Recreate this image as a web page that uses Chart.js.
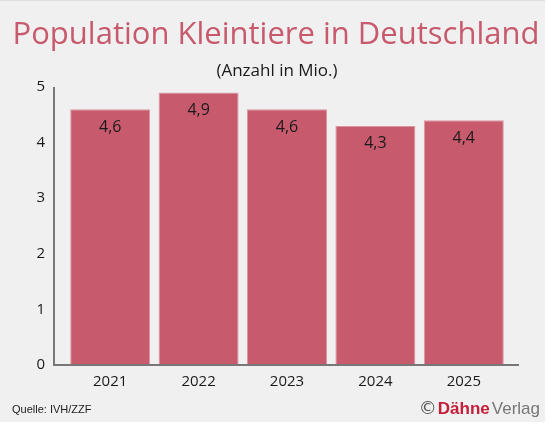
<!DOCTYPE html>
<html>
<head>
<meta charset="utf-8">
<script src="https://cdn.jsdelivr.net/npm/chart.js@4"></script>
<style>
  html, body { margin: 0; padding: 0; background: #fff; }
  #wrap { width: 550px; height: 426px; }
</style>
</head>
<body>
<div id="wrap"><canvas id="myChart" width="550" height="426"></canvas></div>
<script>
var years = ["2021", "2022", "2023", "2024", "2025"];
var population = [4.6, 4.9, 4.6, 4.3, 4.4];
var valueLabels = ["4,6", "4,9", "4,6", "4,3", "4,4"];
var yTicks = [0, 1, 2, 3, 4, 5];

var titleText = "Population Kleintiere in Deutschland";
var subtitleText = "(Anzahl in Mio.)";
var sourceText = "Quelle: IVH/ZZF";

var barColor = "#c85a6e";

// background, headings and footer
var decor = {
    id: "decor",
    beforeDraw: function (chart) {
        var c = chart.ctx;
        c.save();
        c.fillStyle = "#f0f0f0";
        c.fillRect(0, 0, 545, 422);
        c.fillStyle = "#dddddd";
        c.fillRect(0, 0, 545, 1);

        c.textAlign = "center";
        c.textBaseline = "alphabetic";
        c.fillStyle = barColor;
        c.font = "31px 'Open Sans', sans-serif";
        c.fillText(titleText, 276, 44);

        c.fillStyle = "#1a1a1a";
        c.font = "17px 'Open Sans', sans-serif";
        c.fillText(subtitleText, 277, 76);

        c.textAlign = "left";
        c.font = "11px 'Liberation Sans Narrow', 'Liberation Sans', sans-serif";
        c.fillStyle = "#222";
        c.fillText(sourceText, 12, 413);

        // © Dähne Verlag
        c.font = "17px 'Liberation Sans Narrow', 'Liberation Sans', sans-serif";
        var w3 = c.measureText("Verlag").width;
        c.font = "bold 17px 'Liberation Sans Narrow', 'Liberation Sans', sans-serif";
        var w2 = c.measureText("Dähne").width;
        c.font = "18px 'DejaVu Sans', sans-serif";
        var w1 = c.measureText("©").width;
        var x = 540 - w3 - 2 - w2 - 1 - w1;
        c.fillStyle = "#555";
        c.fillText("©", x, 414);
        c.font = "bold 17px 'Liberation Sans Narrow', 'Liberation Sans', sans-serif";
        c.fillStyle = "#c41e3a";
        c.fillText("Dähne", x + w1 + 1, 414);
        c.font = "17px 'Liberation Sans Narrow', 'Liberation Sans', sans-serif";
        c.fillStyle = "#777";
        c.fillText("Verlag", x + w1 + 1 + w2 + 2, 414);
        c.restore();
    },
    afterDatasetsDraw: function (chart) {
        var c = chart.ctx;
        var ys = chart.scales.y;
        c.save();
        // axis lines
        c.strokeStyle = "#777";
        c.lineWidth = 2;
        c.beginPath();
        c.moveTo(chart.chartArea.left - 12, ys.getPixelForValue(5));
        c.lineTo(chart.chartArea.left - 12, ys.getPixelForValue(0));
        c.lineTo(chart.chartArea.right + 11, ys.getPixelForValue(0));
        c.stroke();
        // value labels inside bars
        c.fillStyle = "#1a1a1a";
        c.font = "16px 'Open Sans', sans-serif";
        c.textAlign = "center";
        c.textBaseline = "middle";
        chart.getDatasetMeta(0).data.forEach(function (bar, i) {
            c.fillText(valueLabels[i], bar.x, bar.y + 18);
        });
        c.restore();
    }
};

var ctx = document.getElementById("myChart").getContext("2d");

var myBarChart = new Chart(ctx, {
    type: "bar",
    data: {
        labels: years,
        datasets: [{
            data: population,
            backgroundColor: barColor,
            borderColor: "#de96a3",
            borderWidth: 1,
            borderSkipped: "bottom",
            categoryPercentage: 1,
            barPercentage: 0.905
        }]
    },
    options: {
        responsive: false,
        animation: false,
        devicePixelRatio: 1,
        layout: { padding: { top: 87, right: 42, bottom: 0, left: 0 } },
        plugins: {
            legend: { display: false },
            tooltip: { enabled: false }
        },
        scales: {
            x: {
                grid: { display: false, drawTicks: false },
                border: { display: false },
                ticks: {
                    color: "#1a1a1a",
                    padding: 8,
                    font: { family: "'Open Sans', sans-serif", size: 15 }
                },
                afterFit: function (s) { s.height = 61; }
            },
            y: {
                min: 0,
                max: 5,
                grid: { display: false, drawTicks: false },
                border: { display: false },
                afterBuildTicks: function (s) {
                    s.ticks = yTicks.map(function (v) { return { value: v }; });
                },
                ticks: {
                    color: "#1a1a1a",
                    padding: 21,
                    font: { family: "'Open Sans', sans-serif", size: 15 }
                },
                afterFit: function (s) { s.width = 66; }
            }
        }
    },
    plugins: [decor]
});
</script>
</body>
</html>
